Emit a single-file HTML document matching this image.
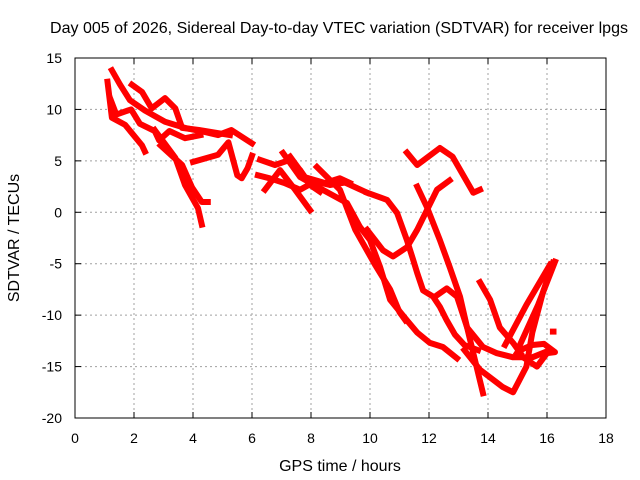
<!DOCTYPE html>
<html><head><meta charset="utf-8"><style>
body{margin:0;background:#fff;}
svg{display:block;font-family:"Liberation Sans",sans-serif;}
</style></head><body>
<svg id="chart" width="640" height="480">
<rect width="640" height="480" fill="#fff"/>
<text x="339" y="33" text-anchor="middle" font-size="16" textLength="578" lengthAdjust="spacingAndGlyphs">Day 005 of 2026, Sidereal Day-to-day VTEC variation (SDTVAR) for receiver lpgs</text>
<text x="340" y="471" text-anchor="middle" font-size="16">GPS time / hours</text>
<text transform="translate(19,238) rotate(-90)" text-anchor="middle" font-size="16">SDTVAR / TECUs</text>
<g id="grid"></g>
<g id="ticks"></g>
<g id="series"></g>
<rect x="75" y="58" width="531" height="360" fill="none" stroke="#000" stroke-width="1"/>
</svg>
<script>
const xTicks = [0,2,4,6,8,10,12,14,16,18];
const yTicks = [15,10,5,0,-5,-10,-15,-20];
const trackHours = [
 [1.25,1.53,1.86,2.37,3.05,3.73,4.41,4.85,5.3,6.0],
 [4.0,4.85,5.2,5.5,5.65,5.85,6.0],
 [2.7,3.4,3.73,4.17,4.3],
 [2.9,3.63,3.97,4.3,4.5],
 [1.1,1.25,1.7,2.27,2.37],
 [1.93,2.27,2.6,3.05,3.4,3.63,4.2,5.25],
 [1.2,1.4,1.9,2.2,2.7,2.85,3.2,3.73,4.25],
 [7.05,7.63,8.41,9.22,9.66,10.0,10.34,10.68,11.25,11.6,12.03,12.47,12.95],
 [8.2,8.98,9.5,10.17,10.68,11.0,11.2],
 [9.9,10.58,10.92,11.25,11.46,11.6,11.8,12.14,12.37,12.6,12.88,13.2,13.66],
 [9.9,10.44,10.78,11.25,11.6,11.93,12.27,12.7],
 [11.6,11.93,12.37,12.7,13.05,13.29,13.5,13.83],
 [11.25,11.6,12.37,12.8,13.5,13.73],
 [12.3,12.6,12.95,13.29,13.63,13.83,14.3,14.85,15.5,16.1],
 [13.73,14.07,14.4,14.85,15.1],
 [13.2,13.73,14.5,14.85,15.3,15.5,15.86,16.2],
 [14.58,15.3,16.1],
 [15.08,15.7,16.27],
 [14.98,15.66,16.0,16.27,15.9,15.5,15.1],
 [6.27,6.78,7.29,7.63,7.97,8.3],
 [6.2,6.6,7.1,7.63,8.14,8.64,9.15,9.9],
 [6.44,6.95,7.46,7.97],
 [7.29,7.8,8.47,8.98,9.32],
 [16.2,16.22]
];
const trackValues = [
 [13.8,12.4,10.9,9.9,8.8,8.2,7.8,7.5,8.0,6.7],
 [4.9,5.6,6.8,3.6,3.3,4.3,5.5],
 [8.0,5.3,2.65,0.4,-1.2],
 [6.5,4.6,2.4,1.0,1.0],
 [12.7,9.2,8.5,6.5,5.9],
 [12.4,11.7,10.1,11.1,10.1,8.2,8.0,7.5],
 [11.0,9.5,10.0,8.6,7.9,7.0,7.9,7.2,7.5],
 [5.76,3.43,2.17,0.9,-1.43,-2.7,-5.3,-8.5,-10.5,-11.7,-12.7,-13.1,-14.2],
 [4.4,2.2,-1.7,-5.1,-7.5,-9.7,-10.5],
 [1.9,1.2,-0.07,-2.7,-4.6,-5.9,-7.6,-8.2,-9.2,-10.5,-11.9,-12.9,-13.4],
 [-1.7,-3.7,-4.3,-3.4,-1.7,0.2,2.2,3.1],
 [2.5,0.5,-2.7,-5.3,-8.2,-11.2,-13.7,-17.6],
 [5.8,4.6,6.25,5.4,1.9,2.2],
 [-8.0,-7.4,-8.2,-11.2,-12.4,-13.1,-13.7,-14.1,-14.1,-13.4],
 [-6.8,-8.5,-11.2,-12.7,-13.7],
 [-13.4,-15.3,-17.0,-17.5,-15.0,-11.7,-7.8,-4.9],
 [-12.9,-9.0,-5.1],
 [-12.9,-9.0,-4.8],
 [-13.7,-15.0,-13.7,-13.6,-12.8,-12.9,-13.4],
 [5.1,4.6,5.1,4.1,2.65,2.0],
 [3.6,3.3,2.85,2.2,3.0,2.65,2.9,1.9],
 [2.2,4.1,2.2,0.2],
 [5.4,3.4,2.85,3.3,2.85],
 [-11.6,-11.6]
];
const NS='http://www.w3.org/2000/svg';
const X0=75,X1=606,Y0=58,Y1=418;
function xs(h){return X0+(h-0)/18*(X1-X0);}
function ys(v){return Y0+(15-v)/35*(Y1-Y0);}
const grid=document.getElementById('grid'),ticks=document.getElementById('ticks'),ser=document.getElementById('series');
function mk(tag,attrs,parent){const e=document.createElementNS(NS,tag);for(const k in attrs)e.setAttribute(k,attrs[k]);parent.appendChild(e);return e;}
xTicks.forEach(t=>{
 const x=xs(t);
 if(t>0&&t<18){const g=mk('line',{x1:x,y1:Y0,x2:x,y2:Y1,stroke:'#a0a0a0','stroke-dasharray':'2,3'},grid);
 
 }
 const a=mk('line',{x1:x,y1:Y1,x2:x,y2:Y1-6,stroke:'#000'},ticks);
 
 
 const b=mk('line',{x1:x,y1:Y0,x2:x,y2:Y0+6,stroke:'#000'},ticks);
 
 
 const l=mk('text',{x:x,y:443,'text-anchor':'middle','font-size':'14'},ticks);l.textContent=t;
 
 
});
yTicks.forEach(t=>{
 const y=ys(t);
 if(t<15&&t>-20){const g=mk('line',{x1:X0,y1:y,x2:X1,y2:y,stroke:'#a0a0a0','stroke-dasharray':'2,3'},grid);
 
 }
 const a=mk('line',{x1:X0,y1:y,x2:X0+6,y2:y,stroke:'#000'},ticks);
 
 
 const b=mk('line',{x1:X1,y1:y,x2:X1-6,y2:y,stroke:'#000'},ticks);
 
 
 const l=mk('text',{x:62,y:y+5,'text-anchor':'end','font-size':'14'},ticks);l.textContent=t;
 
 
});
trackHours.forEach((hs,i)=>{
 const vs=trackValues[i];
 const pts=hs.map((h,j)=>xs(h).toFixed(1)+','+ys(vs[j]).toFixed(1)).join(' ');
 const p=mk('polyline',{points:pts,fill:'none',stroke:'#ff0000','stroke-width':'6','stroke-linejoin':'round','stroke-linecap':'square'},ser);
 
 
});
</script>
</body></html>
